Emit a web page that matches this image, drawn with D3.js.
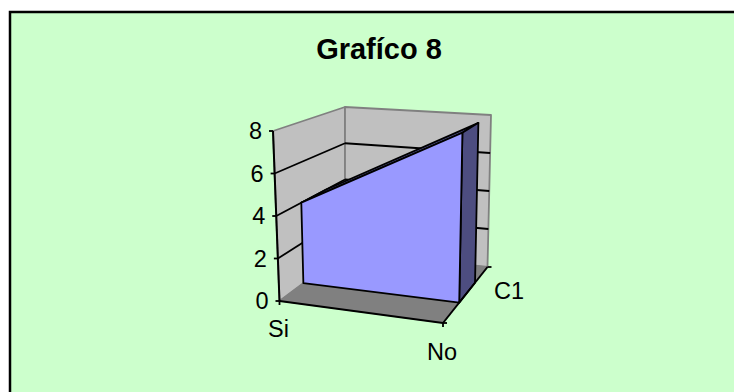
<!DOCTYPE html>
<html>
<head>
<meta charset="utf-8">
<script src="https://cdn.jsdelivr.net/npm/d3@7"></script>
<style>
  html, body { margin: 0; padding: 0; background: #fff; }
  text { font-family: "Liberation Sans", Arial, sans-serif; fill: #000; }
</style>
</head>
<body>
<div id="chart"></div>
<script>
// Grafico 8 - 3D area chart (one series, two categories)
const categories = ['Si', 'No'];
const seriesNames = ['C1'];
const seriesValues = [4, 8];
const valueTicks = [0, 2, 4, 6, 8];

const width = 734;
const height = 392;

const svg = d3.select('#chart').append('svg')
    .attr('width', width)
    .attr('height', height)
    .style('display', 'block');

// chart area, the border only shows on the top and left
svg.append('rect')
    .attr('x', 10).attr('y', 12)
    .attr('width', width + 10).attr('height', height + 10)
    .attr('fill', '#ccffcc')
    .attr('stroke', '#000')
    .attr('stroke-width', 2.5);

svg.append('text')
    .attr('x', 379)
    .attr('y', 58.5)
    .attr('text-anchor', 'middle')
    .attr('font-size', 29)
    .attr('font-weight', 'bold')
    .text('Grafíco 8');

// scales work in unit cube space, project() places the cube on the page
const x = d3.scalePoint().domain(categories).range([0, 1]);
const y = d3.scaleLinear().domain([0, 8]).range([0, 1]);
const z = d3.scaleBand().domain(seriesNames).range([0, 1]).padding(0.476).align(0.565);

// page position of the cube corners: [x][depth][value]
const corners = [
    [[[279.5, 301], [273, 131]], [[345, 252], [345, 107]]],
    [[[443, 323], [446, 143]], [[487.5, 267], [491, 115]]]
];

function project(u, w, v) {
    const out = [0, 1].map(i => {
        const c = (a, b, t) => a + (b - a) * t;
        const f0 = c(corners[0][0][0][i], corners[1][0][0][i], u);
        const f1 = c(corners[0][0][1][i], corners[1][0][1][i], u);
        const b0 = c(corners[0][1][0][i], corners[1][1][0][i], u);
        const b1 = c(corners[0][1][1][i], corners[1][1][1][i], u);
        return c(c(f0, b0, w), c(f1, b1, w), v);
    });
    return out;
}

const line = d3.line();
const g = svg.append('g');

function face(points, fill, stroke, strokeWidth) {
    g.append('path')
        .attr('d', line(points) + 'Z')
        .attr('fill', fill)
        .attr('stroke', stroke)
        .attr('stroke-width', strokeWidth)
        .attr('stroke-linejoin', 'round');
}

function seg(a, b, stroke, strokeWidth) {
    g.append('path')
        .attr('d', line([a, b]))
        .attr('fill', 'none')
        .attr('stroke', stroke)
        .attr('stroke-width', strokeWidth);
}

// walls and floor
face([project(0, 0, 0), project(0, 1, 0), project(0, 1, 1), project(0, 0, 1)], '#c0c0c0', '#808080', 1.8);
face([project(0, 1, 0), project(1, 1, 0), project(1, 1, 1), project(0, 1, 1)], '#c0c0c0', '#808080', 1.8);
face([project(0, 0, 0), project(1, 0, 0), project(1, 1, 0), project(0, 1, 0)], '#808080', '#808080', 1);

// gridlines
valueTicks.filter(t => t > 0 && t < 8).forEach(t => {
    const v = y(t);
    seg(project(0, 0, v), project(0, 1, v), '#000', 1.8);
    seg(project(0, 1, v), project(1, 1, v), '#000', 1.8);
});

// area
const w0 = z('C1');
const w1 = z('C1') + z.bandwidth();
const u0 = x(categories[0]);
const u1 = x(categories[1]);
const v0 = y(seriesValues[0]);
const v1 = y(seriesValues[1]);

face([project(u0, w0, v0), project(u1, w0, v1), project(u1, w1, v1), project(u0, w1, v0)], '#4d4d80', '#000', 1.8);
face([project(u1, w0, 0), project(u1, w1, 0), project(u1, w1, v1), project(u1, w0, v1)], '#4d4d80', '#000', 1.8);
face([project(u0, w0, 0), project(u1, w0, 0), project(u1, w0, v1), project(u0, w0, v0)], '#9999ff', '#000', 1.8);

// axes
seg(project(0, 0, 0), project(0, 0, 1), '#000', 2);
seg(project(0, 0, 0), project(1, 0, 0), '#000', 2);
seg(project(1, 0, 0), project(1, 1, 0), '#000', 2);

valueTicks.forEach(t => {
    const p = project(0, 0, y(t));
    seg([p[0] - 4, p[1]], p, '#000', 1.8);
    g.append('text')
        .attr('x', p[0] - 11)
        .attr('y', p[1] + 8)
        .attr('text-anchor', 'end')
        .attr('font-size', 23.5)
        .text(t);
});

categories.forEach(c => {
    const p = project(x(c), 0, 0);
    seg(p, [p[0], p[1] + 4], '#000', 1.8);
});

[0, 1].forEach(w => {
    const p = project(1, w, 0);
    seg(p, [p[0] + 4, p[1]], '#000', 1.8);
});

// category and series labels
const siPos = project(x('Si'), 0, 0);
g.append('text')
    .attr('x', siPos[0] - 1)
    .attr('y', siPos[1] + 36)
    .attr('text-anchor', 'middle')
    .attr('font-size', 23.5)
    .text('Si');

const noPos = project(x('No'), 0, 0);
g.append('text')
    .attr('x', noPos[0] - 1)
    .attr('y', noPos[1] + 36.5)
    .attr('text-anchor', 'middle')
    .attr('font-size', 23.5)
    .text('No');

const c1Pos = project(1, z('C1') + z.bandwidth() / 2, 0);
g.append('text')
    .attr('x', c1Pos[0] + 42)
    .attr('y', c1Pos[1] + 6.5)
    .attr('text-anchor', 'middle')
    .attr('font-size', 23.5)
    .text('C1');
</script>
</body>
</html>
